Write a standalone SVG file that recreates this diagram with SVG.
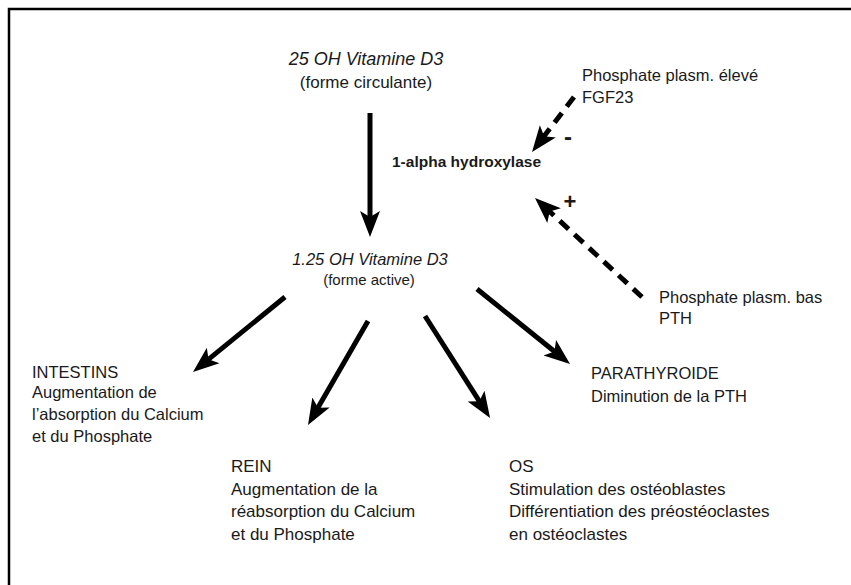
<svg xmlns="http://www.w3.org/2000/svg" width="851" height="585" viewBox="0 0 851 585">
<style>
  text { font-family: "Liberation Sans", Arial, sans-serif; fill: #1a1a1a; }
  .body { font-size: 16.5px; }
  .lower { font-size: 17px; }
  .title { font-style: italic; }
  .solid { fill: none; stroke: #000; stroke-width: 5; }
  .dash { fill: none; stroke: #000; stroke-width: 5; stroke-dasharray: 12 8; }
</style>
<defs>
  <marker id="head" markerUnits="userSpaceOnUse" viewBox="0 -12 28 24" markerWidth="28" markerHeight="24" refX="14" refY="0" orient="auto">
    <path d="M0,-10 L26,0 L0,10 L6,0 Z" fill="#000"/>
  </marker>
</defs>
<rect width="851" height="585" fill="#fff"/>
<path d="M9,585 V9 H851" fill="none" stroke="#000" stroke-width="2.5"/>

<g id="connectors">
  <path class="solid" d="M370,113 L370,225" stroke-width="6" marker-end="url(#head)"/>
  <path class="solid" d="M285,297 L202.3,364.4" marker-end="url(#head)"/>
  <path class="solid" d="M368,321 L314,414.6" marker-end="url(#head)"/>
  <path class="solid" d="M425,316 L483.6,407.9" marker-end="url(#head)"/>
  <path class="solid" d="M477,289 L560.7,356.5" marker-end="url(#head)"/>
  <path class="dash" d="M574,97 L539.3,142.5" marker-end="url(#head)"/>
  <path class="dash" d="M642,297 L543.8,206.1" marker-end="url(#head)"/>
  <text x="568" y="145" font-size="24" font-weight="bold" text-anchor="middle">-</text>
  <text x="570" y="209" font-size="22" font-weight="bold" text-anchor="middle">+</text>
</g>

<g id="vitd3-25">
  <text class="title" x="366" y="65" font-size="18" text-anchor="middle">25 OH Vitamine D3</text>
  <text x="366" y="88" font-size="17" text-anchor="middle">(forme circulante)</text>
</g>
<g id="hydroxylase">
  <text x="392" y="167" font-size="15.5" font-weight="bold">1-alpha hydroxylase</text>
</g>
<g id="phosphate-eleve">
  <text class="body" x="582" y="81">Phosphate plasm. élevé</text>
  <text class="body" x="582" y="103">FGF23</text>
</g>
<g id="phosphate-bas">
  <text class="body" x="659" y="303">Phosphate plasm. bas</text>
  <text class="body" x="659" y="324">PTH</text>
</g>
<g id="vitd3-125">
  <text class="title" x="370" y="265" font-size="16.5" text-anchor="middle">1.25 OH Vitamine D3</text>
  <text x="369" y="285" font-size="15" text-anchor="middle">(forme active)</text>
</g>
<g id="intestins">
  <text class="body" x="32" y="378">INTESTINS</text>
  <text class="body" x="32" y="398">Augmentation de</text>
  <text class="body" x="32" y="420">l’absorption du Calcium</text>
  <text class="body" x="32" y="442">et du Phosphate</text>
</g>
<g id="rein">
  <text class="lower" x="231" y="472">REIN</text>
  <text class="lower" x="231" y="494.5">Augmentation de la</text>
  <text class="lower" x="231" y="517">réabsorption du Calcium</text>
  <text class="lower" x="231" y="539.5">et du Phosphate</text>
</g>
<g id="os">
  <text class="lower" x="509" y="472">OS</text>
  <text class="lower" x="509" y="494.5">Stimulation des ostéoblastes</text>
  <text class="lower" x="509" y="517">Différentiation des préostéoclastes</text>
  <text class="lower" x="509" y="539.5">en ostéoclastes</text>
</g>
<g id="parathyroide">
  <text class="body" x="591" y="379">PARATHYROIDE</text>
  <text class="body" x="591" y="401.5">Diminution de la PTH</text>
</g>
</svg>
